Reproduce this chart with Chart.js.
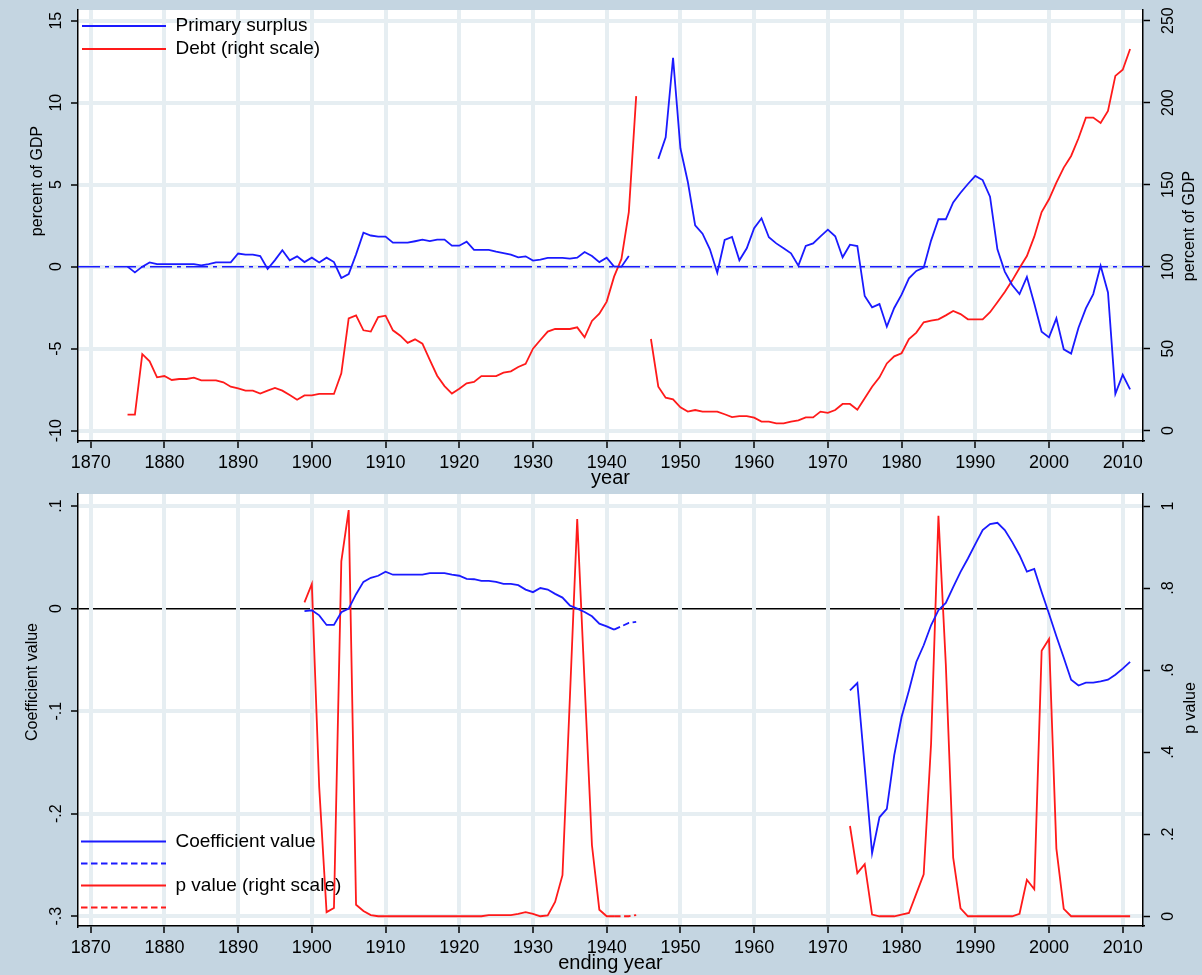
<!DOCTYPE html>
<html><head><meta charset="utf-8">
<script src="https://cdn.jsdelivr.net/npm/chart.js@4.4.1/dist/chart.umd.min.js"></script>
<style>
html,body{margin:0;padding:0;background:#c4d5e1;}
canvas{display:block;}
</style></head><body>
<canvas id="topChart" width="1202" height="488"></canvas>
<canvas id="bottomChart" width="1202" height="487"></canvas>
<script>
// ---------------- DATA ----------------
// Top panel: primary surplus (% of GDP, left) and debt (% of GDP, right), yearly from 1875
const surplusStart = 1875;
const surplus = [
  0, -0.35, 0, 0.26, 0.16, 0.16, 0.16, 0.16, 0.16, 0.16,          // 1875-1884
  0.08, 0.16, 0.26, 0.26, 0.26, 0.8, 0.73, 0.73, 0.65, -0.14,     // 1885-1894
  0.4, 1.0, 0.39, 0.63, 0.28, 0.55, 0.26, 0.55, 0.28, -0.69,      // 1895-1904
  -0.45, 0.75, 2.07, 1.9, 1.83, 1.83, 1.46, 1.46, 1.46, 1.55,     // 1905-1914
  1.65, 1.56, 1.65, 1.65, 1.28, 1.28, 1.52, 1.02, 1.02, 1.02,     // 1915-1924
  0.91, 0.83, 0.73, 0.57, 0.63, 0.37, 0.43, 0.53, 0.53, 0.53,     // 1925-1934
  0.49, 0.55, 0.89, 0.65, 0.28, 0.55, 0, 0, 0.65, null,           // 1935-1944
  null, null, 6.57, 7.89, 12.74, 7.22, 5.18, 2.52, 2.01, 1.06,    // 1945-1954
  -0.37, 1.63, 1.81, 0.39, 1.12, 2.34, 2.95, 1.79, 1.42, 1.12,    // 1955-1964
  0.81, 0.06, 1.26, 1.42, 1.85, 2.26, 1.85, 0.57, 1.34, 1.26,     // 1965-1974
  -1.79, -2.48, -2.28, -3.66, -2.52, -1.71, -0.71, -0.26, -0.06, 1.59, // 1975-1984
  2.89, 2.89, 3.92, 4.51, 5.04, 5.53, 5.28, 4.27, 1.06, -0.3,     // 1985-1994
  -1.12, -1.67, -0.63, -2.24, -3.96, -4.31, -3.15, -5.04, -5.3, -3.72, // 1995-2004
  -2.54, -1.67, 0.06, -1.57, -7.76, -6.59, -7.48                  // 2005-2011
];
const debtStart = 1875;
const debt = [
  9.8, 9.8, 46.7, 42.3, 32.5, 33.3, 30.9, 31.5, 31.5, 32.3,       // 1875-1884
  30.7, 30.7, 30.7, 29.5, 26.8, 25.8, 24.4, 24.4, 22.6, 24.4,     // 1885-1894
  26, 24.4, 21.7, 18.9, 21.5, 21.5, 22.4, 22.4, 22.4, 35,         // 1895-1904
  68.5, 70.3, 61.2, 60.4, 69.3, 70.1, 61.2, 57.9, 53.5, 55.7,     // 1905-1914
  53, 43.1, 33.5, 27.2, 22.6, 25.6, 28.9, 29.7, 33.3, 33.3,       // 1915-1924
  33.3, 35.4, 36.2, 38.8, 40.7, 50, 55.3, 60.4, 62, 62,           // 1925-1934
  62, 63, 56.9, 66.9, 71.3, 78.7, 93.9, 104.7, 133.3, 204,        // 1935-1944
  null, 55.9, 26.8, 20.1, 19.1, 14.2, 11.6, 12.6, 11.6, 11.6,     // 1945-1954
  11.6, 10, 8.3, 8.9, 8.9, 7.9, 5.5, 5.5, 4.5, 4.5,               // 1955-1964
  5.5, 6.3, 8.1, 8.1, 11.6, 10.9, 12.6, 16.3, 16.3, 12.8,         // 1965-1974
  19.7, 26.8, 32.5, 41, 45.3, 47.2, 55.9, 59.8, 66.1, 67.1,       // 1975-1984
  67.9, 70.3, 73, 71.1, 67.9, 67.9, 67.9, 72.2, 78.3, 84.6,       // 1985-1994
  91.5, 99.2, 106.5, 118.3, 133.3, 141.1, 151.2, 160.4, 167.5, 178.3, // 1995-2004
  190.9, 190.9, 187.6, 194.9, 216.3, 220.1, 232.7                 // 2005-2011
];

// Bottom panel: rolling coefficient (left) and p value (right) by ending year
const coefEarlyStart = 1899;
const coefEarly = [
  -0.0026, -0.0017, -0.0066, -0.016, -0.016, -0.0036, 0, 0.014, 0.026, 0.030, // 1899-1908
  0.032, 0.036, 0.033, 0.033, 0.033, 0.033, 0.033, 0.0345, 0.0345, 0.0345,    // 1909-1918
  0.033, 0.032, 0.029, 0.0286, 0.027, 0.027, 0.026, 0.024, 0.024, 0.0228,     // 1919-1928
  0.0185, 0.016, 0.020, 0.0185, 0.0143, 0.0107, 0.003, 0, -0.0033, -0.0075,   // 1929-1938
  -0.0147, -0.0173, -0.0205                                                   // 1939-1941
];
const coefBridgeStart = 1941;
const coefBridge = [-0.0205, -0.0173, -0.014, -0.013];              // 1941-1944 (dashed)
const coefLateStart = 1973;
const coefLate = [
  -0.0798, -0.0726, -0.1546, -0.2386, -0.2035, -0.1953, -0.1432, -0.1058, -0.0798, -0.0521, // 1973-1982
  -0.0358, -0.0163, -0.0016, 0.0055, 0.021, 0.0358, 0.0488, 0.0628, 0.0765, 0.0823,         // 1983-1992
  0.0836, 0.0765, 0.065, 0.052, 0.036, 0.0387, 0.0162, -0.005, -0.027, -0.048,              // 1993-2002
  -0.0694, -0.075, -0.0723, -0.0723, -0.071, -0.0694, -0.0645, -0.0586, -0.052              // 2003-2011
];
const pEarlyStart = 1899;
const pEarly = [
  0.765, 0.81, 0.315, 0.01, 0.02, 0.865, 0.99, 0.028, 0.013, 0.003, // 1899-1908
  0, 0, 0, 0, 0, 0, 0, 0, 0, 0,                                      // 1909-1918
  0, 0, 0, 0, 0, 0.003, 0.003, 0.003, 0.003, 0.006,                  // 1919-1928
  0.01, 0.006, 0, 0.002, 0.035, 0.1, 0.53, 0.968, 0.57, 0.173,       // 1929-1938
  0.016, 0, 0                                                        // 1939-1941
];
const pBridgeStart = 1941;
const pBridge = [0, 0, 0, 0.003];                                    // 1941-1944 (dashed)
const pLateStart = 1973;
const pLate = [
  0.22, 0.105, 0.127, 0.004, 0, 0, 0, 0.004, 0.008, 0.055,           // 1973-1982
  0.102, 0.42, 0.976, 0.615, 0.143, 0.019, 0, 0, 0, 0,               // 1983-1992
  0, 0, 0, 0.006, 0.089, 0.066, 0.647, 0.676, 0.165, 0.018,          // 1993-2002
  0, 0, 0, 0, 0, 0, 0, 0, 0                                          // 2003-2011
];

// Axis ticks and ranges
const xTicks = [1870, 1880, 1890, 1900, 1910, 1920, 1930, 1940, 1950, 1960, 1970, 1980, 1990, 2000, 2010];
const xRange = [1868.28, 2012.75];
const topLeftTicks = [-10, -5, 0, 5, 10, 15];
const topLeftRange = [-10.63, 15.65];
const topRightTicks = [0, 50, 100, 150, 200, 250];
const topRightRange = [-6.3, 256.5];
const botLeftTicks = [-0.3, -0.2, -0.1, 0, 0.1];
const botLeftRange = [-0.3095, 0.1117];
const botRightTicks = [0, 0.2, 0.4, 0.6, 0.8, 1];
const botRightRange = [-0.02375, 1.0293];
const zeroLevel = 0;

// ---------------- STYLE ----------------
const BG = '#c4d5e1';
const GRID = '#e6eef2';
const BLUE = '#1a1aff';
const RED = '#ff1a1a';
const FONT = "'Liberation Sans', Arial, sans-serif";
Chart.defaults.font.family = FONT;
Chart.defaults.color = '#000';

const pts = (start, vals) => vals.map((v, i) => ({x: start + i, y: v}));
const stata = v => {
  if (Math.abs(v) < 1e-9) return '0';
  const a = Math.abs(Math.round(v * 100) / 100);
  const s = a >= 1 ? String(a) : String(a).replace(/^0/, '');
  return (v < 0 ? '-' : '') + s;
};
const setTicks = arr => s => { s.ticks = arr.map(v => ({value: v})); };
const noPad = s => { s.paddingTop = 0; s.paddingBottom = 0; s.paddingLeft = 0; s.paddingRight = 0; };

const bgPlugin = {
  id: 'bgPlugin',
  beforeDraw(chart) {
    const {ctx, chartArea: a} = chart;
    ctx.save();
    ctx.fillStyle = BG;
    ctx.fillRect(0, 0, chart.width, chart.height);
    ctx.fillStyle = '#fff';
    ctx.fillRect(a.left, a.top, a.right - a.left, a.bottom - a.top);
    ctx.restore();
  }
};
const yTitles = items => ({
  id: 'yTitles',
  afterDraw(chart) {
    const ctx = chart.ctx;
    ctx.save();
    ctx.font = '16px ' + FONT;
    ctx.fillStyle = '#000';
    ctx.textAlign = 'center';
    ctx.textBaseline = 'middle';
    items.forEach(it => {
      ctx.save();
      ctx.translate(it.x, it.y);
      ctx.rotate(-Math.PI / 2);
      ctx.fillText(it.text, 0, 0);
      ctx.restore();
    });
    ctx.restore();
  }
});

function xScale(title, titlePad, axisH) {
  return {
    type: 'linear', position: 'bottom', min: xRange[0], max: xRange[1],
    afterBuildTicks: setTicks(xTicks),
    afterFit: s => { s.height = axisH; noPad(s); },
    ticks: {autoSkip: false, maxRotation: 0, minRotation: 0, padding: 4, font: {size: 18}, callback: v => String(v)},
    grid: {color: GRID, lineWidth: 4, tickColor: '#000', tickWidth: 1.5, tickLength: 7, z: -1},
    border: {color: '#000', width: 1.5},
    title: {display: true, text: title, font: {size: 20, lineHeight: 1}, padding: {top: 0, bottom: titlePad}}
  };
}
function yScale(range, ticks, pad, gridOpts, width) {
  return {
    type: 'linear', position: 'left', min: range[0], max: range[1],
    afterBuildTicks: setTicks(ticks),
    afterFit: s => { s.width = width; noPad(s); },
    ticks: {autoSkip: false, minRotation: 90, maxRotation: 90, crossAlign: 'center', padding: pad, font: {size: 16}, callback: v => stata(v)},
    grid: Object.assign({color: GRID, lineWidth: 4, tickColor: '#000', tickWidth: 1.5, tickLength: 7, z: -2}, gridOpts),
    border: {color: '#000', width: 1.5}
  };
}
function y2Scale(range, ticks, pad, width) {
  return {
    type: 'linear', position: 'right', min: range[0], max: range[1],
    afterBuildTicks: setTicks(ticks),
    afterFit: s => { s.width = width; noPad(s); },
    ticks: {autoSkip: false, minRotation: 90, maxRotation: 90, crossAlign: 'center', padding: pad, font: {size: 16}, callback: v => stata(v)},
    grid: {drawOnChartArea: false, tickColor: '#000', tickWidth: 1.5, tickLength: 7},
    border: {color: '#000', width: 1.5}
  };
}
function legendOpts(align, pad, titleH, boxW) {
  return {
    position: 'chartArea', align: align,
    title: {display: titleH > 0, text: '', font: {size: Math.max(titleH - 2, 1), lineHeight: 1}, padding: 1},
    labels: {
      usePointStyle: true, pointStyleWidth: boxW, boxHeight: 19, padding: pad,
      font: {size: 19}, color: '#000',
      filter: (item, data) => !data.datasets[item.datasetIndex].noLegend,
      generateLabels: chart => {
        const items = Chart.defaults.plugins.legend.labels.generateLabels(chart);
        items.forEach(it => {
          const ds = chart.data.datasets[it.datasetIndex];
          it.lineDash = ds.borderDash || [];
          it.lineWidth = ds.borderWidth;
          it.strokeStyle = ds.borderColor;
          it.fillStyle = ds.borderColor;
          it.pointStyle = 'line';
          it.fontColor = '#000';
        });
        return items;
      }
    }
  };
}
function line(label, data, color, axis, dash, extra) {
  return Object.assign({
    label, data, yAxisID: axis, borderColor: color, backgroundColor: color,
    borderWidth: 1.8, borderDash: dash || [], pointRadius: 0, pointStyle: 'line',
    tension: 0, fill: false, spanGaps: false
  }, extra || {});
}

// ---------------- TOP CHART ----------------
new Chart(document.getElementById('topChart'), {
  type: 'line',
  data: {
    datasets: [
      line('Primary surplus', pts(surplusStart, surplus), BLUE, 'y'),
      line('Debt (right scale)', pts(debtStart, debt), RED, 'y2'),
      line('', [{x: xRange[0], y: zeroLevel}, {x: xRange[1], y: zeroLevel}], BLUE, 'y', [22, 5, 4, 5], {borderWidth: 1.5, noLegend: true})
    ]
  },
  options: {
    responsive: false, animation: false, devicePixelRatio: 1,
    layout: {padding: {top: 10, left: 0, right: 0, bottom: 0}},
    plugins: {legend: legendOpts('start', 4, 12.5, 84), tooltip: {enabled: false}},
    scales: {
      x: xScale('year', 0, 47),
      y: yScale(topLeftRange, topLeftTicks, 2.4, {}, 78),
      y2: y2Scale(topRightRange, topRightTicks, 5.2, 59)
    }
  },
  plugins: [bgPlugin, yTitles([{text: 'percent of GDP', x: 38, y: 181}, {text: 'percent of GDP', x: 1190, y: 226}])]
});

// ---------------- BOTTOM CHART ----------------
const gapPoint = {x: 1957, y: null};
new Chart(document.getElementById('bottomChart'), {
  type: 'line',
  data: {
    datasets: [
      line('Coefficient value', pts(coefEarlyStart, coefEarly).concat([gapPoint], pts(coefLateStart, coefLate)), BLUE, 'y'),
      line('', pts(coefBridgeStart, coefBridge), BLUE, 'y', [6.5, 3.5]),
      line('p value (right scale)', pts(pEarlyStart, pEarly).concat([gapPoint], pts(pLateStart, pLate)), RED, 'y2'),
      line('', pts(pBridgeStart, pBridge), RED, 'y2', [6.5, 3.5])
    ]
  },
  options: {
    responsive: false, animation: false, devicePixelRatio: 1,
    layout: {padding: {top: 6, left: 0, right: 0, bottom: 0}},
    plugins: {legend: legendOpts('end', 3, 0, 85), tooltip: {enabled: false}},
    scales: {
      x: xScale('ending year', 1.5, 49),
      y: yScale(botLeftRange, botLeftTicks, 4.7, {
        color: c => (c.tick && Math.abs(c.tick.value) < 1e-9) ? '#000' : GRID,
        lineWidth: c => (c.tick && Math.abs(c.tick.value) < 1e-9) ? 1.5 : 4
      }, 78),
      y2: y2Scale(botRightRange, botRightTicks, 11.8, 59)
    }
  },
  plugins: [bgPlugin, yTitles([{text: 'Coefficient value', x: 33, y: 194}, {text: 'p value', x: 1191, y: 220}])]
});
</script>
</body></html>
